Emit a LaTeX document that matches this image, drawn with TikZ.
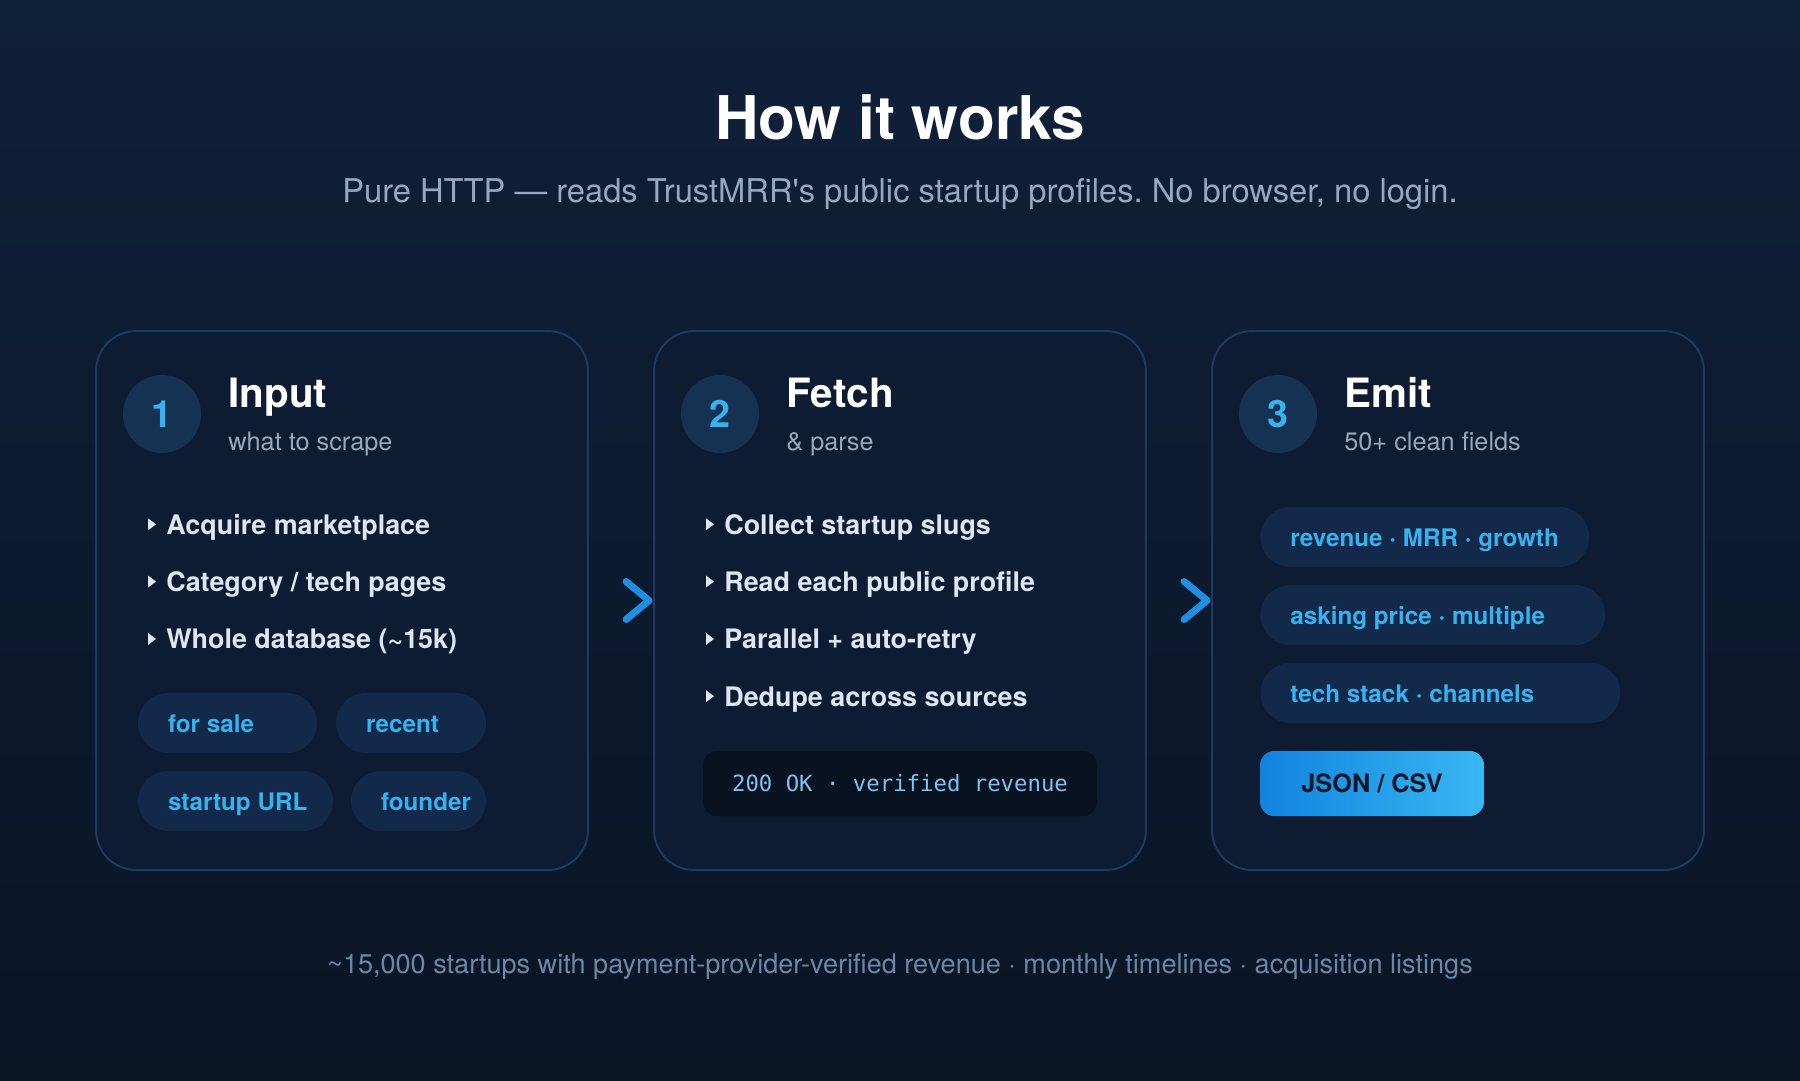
\documentclass[tikz,border=0pt]{standalone}
\usepackage{fontspec}
\setmainfont{TeX Gyre Heros}
\setmonofont{DejaVu Sans Mono}
\usetikzlibrary{positioning}
\frenchspacing

\definecolor{bgtop}{HTML}{0F2039}
\definecolor{bgbot}{HTML}{0A1526}
\definecolor{cardbg}{HTML}{0D1B33}
\definecolor{cardline}{HTML}{1E3A5C}
\definecolor{numbg}{HTML}{163252}
\definecolor{accent}{HTML}{38B2EE}
\definecolor{pillbg}{HTML}{13294A}
\definecolor{itemtxt}{HTML}{DCE6F4}
\definecolor{subtxt}{HTML}{95A8C0}
\definecolor{foottxt}{HTML}{6E86A4}
\definecolor{codebg}{HTML}{081221}
\definecolor{codetxt}{HTML}{7CC3EE}
\definecolor{btnleft}{HTML}{1283DE}
\definecolor{btnright}{HTML}{38B7F4}
\definecolor{btntxt}{HTML}{08182B}
\definecolor{chev}{HTML}{1E8FE2}

\begin{document}
\begin{tikzpicture}[x=0.02cm, y=-0.02cm,
    card/.style={draw=cardline, line width=1.1pt, fill=cardbg, rounded corners=0.8cm,
        minimum width=9.84cm, minimum height=10.78cm},
    numdot/.style={circle, fill=numbg, minimum size=1.56cm, inner sep=0pt, text=accent,
        font=\fontsize{21.4}{25}\selectfont\bfseries},
    ctitle/.style={anchor=base west, inner sep=0pt, text=white, font=\fontsize{23}{28}\selectfont\bfseries},
    csub/.style={anchor=base west, inner sep=0pt, text=subtxt, font=\fontsize{14.4}{17}\selectfont},
    item/.style={anchor=base west, inner sep=0pt, text=itemtxt, font=\fontsize{15.3}{18}\selectfont\bfseries},
    tri/.style={fill=itemtxt},
    pill/.style={fill=pillbg, rounded corners=0.6cm, minimum height=1.2cm, inner sep=0pt},
    pilltxt/.style={anchor=base west, inner sep=0pt, text=accent, font=\fontsize{13.8}{16}\selectfont\bfseries},
    chevron/.style={draw=chev, line width=4pt, line cap=round, line join=round}
  ]
  % background
  \shade[top color=bgtop, bottom color=bgbot] (0,0) rectangle (1800,1080);
  \useasboundingbox (0,0) rectangle (1800,1080);

  \node[inner sep=0pt, anchor=base, text=white, font=\fontsize{34.3}{41}\selectfont\bfseries]
    (title) at (900,139) {How it works};
  \node[inner sep=0pt, anchor=base, text=subtxt, font=\fontsize{18.6}{22}\selectfont]
    (subtitle) at (900,202) {Pure HTTP — reads TrustMRR\textquotesingle s public startup profiles. No browser, no login.};

  % the three cards
  \node[card] (card1) at (342,600.5) {};
  \node[card] (card2) at (900,600.5) {};
  \node[card] (card3) at (1458,600.5) {};

  % card 1
  \node[numdot] (num1) at (162,414) {1};
  \node[ctitle] (head1) at (228,407) {Input};
  \node[csub] (sub1) at (228,450) {what to scrape};
  \foreach \t [count=\i] in {Acquire marketplace, Category / tech pages, Whole database (\textasciitilde15k)} {
    \node[item] (in\i) at (166,477+57.3*\i) {\t};
    \fill[tri] (in\i.base west) ++(-18,-16) -- ++(8,6) -- ++(-8,6) -- cycle;
  }
  \node[pill, minimum width=3.58cm] (p1) at (227.5,723) {};
  \node[pill, minimum width=3.0cm] (p2) at (411,723) {};
  \node[pill, minimum width=3.9cm] (p3) at (235.5,801) {};
  \node[pill, minimum width=2.7cm] (p4) at (418.5,801) {};
  \node[pilltxt] (t1) at ([xshift=0.6cm,yshift=-0.18cm]p1.west) {for sale};
  \node[pilltxt] (t2) at ([xshift=0.6cm,yshift=-0.18cm]p2.west) {recent};
  \node[pilltxt] (t3) at ([xshift=0.6cm,yshift=-0.18cm]p3.west) {startup URL};
  \node[pilltxt] (t4) at ([xshift=0.6cm,yshift=-0.18cm]p4.west) {founder};

  % card 2
  \node[numdot] (num2) at (720,414) {2};
  \node[ctitle] (head2) at (786,407) {Fetch};
  \node[csub] (sub2) at (786,450) {\& parse};
  \foreach \t [count=\i] in {Collect startup slugs, Read each public profile, Parallel + auto-retry, Dedupe across sources} {
    \node[item] (fe\i) at (724,477+57.3*\i) {\t};
    \fill[tri] (fe\i.base west) ++(-18,-16) -- ++(8,6) -- ++(-8,6) -- cycle;
  }
  \node[fill=codebg, rounded corners=0.28cm, minimum width=7.88cm, minimum height=1.3cm,
    text=codetxt, font=\ttfamily\fontsize{12.7}{15}\selectfont] (code) at (900,783.5)
    {200 OK · verified revenue};

  % card 3
  \node[numdot] (num3) at (1278,414) {3};
  \node[ctitle] (head3) at (1344,407) {Emit};
  \node[csub] (sub3) at (1344,450) {50+ clean fields};
  \node[pill, minimum width=6.58cm, anchor=west] (f1) at (1260,537) {};
  \node[pill, minimum width=6.9cm, anchor=west] (f2) at (1260,615) {};
  \node[pill, minimum width=7.2cm, anchor=west] (f3) at (1260,693) {};
  \node[pilltxt] (g1) at ([xshift=0.6cm,yshift=-0.18cm]f1.west) {revenue · MRR · growth};
  \node[pilltxt] (g2) at ([xshift=0.6cm,yshift=-0.18cm]f2.west) {asking price · multiple};
  \node[pilltxt] (g3) at ([xshift=0.6cm,yshift=-0.18cm]f3.west) {tech stack · channels};
  \node[left color=btnleft, right color=btnright, rounded corners=0.28cm, minimum width=4.48cm,
    minimum height=1.3cm, text=btntxt, font=\fontsize{14.4}{17}\selectfont\bfseries]
    (fmt) at (1372,783.5) {JSON / CSV};

  % chevrons between the cards
  \coordinate (ch1) at ([xshift=-0.08cm]card2.west);
  \coordinate (ch2) at ([xshift=-0.08cm]card3.west);
  \draw[chevron] (ch1) ++(-23,-19) -- ++(23,19) -- ++(-23,19);
  \draw[chevron] (ch2) ++(-23,-19) -- ++(23,19) -- ++(-23,19);

  \node[inner sep=0pt, anchor=base, text=foottxt, font=\fontsize{15.4}{18}\selectfont]
    (foot) at (900,973) {\textasciitilde15,000 startups with payment-provider-verified revenue · monthly timelines · acquisition listings};
\end{tikzpicture}
\end{document}
